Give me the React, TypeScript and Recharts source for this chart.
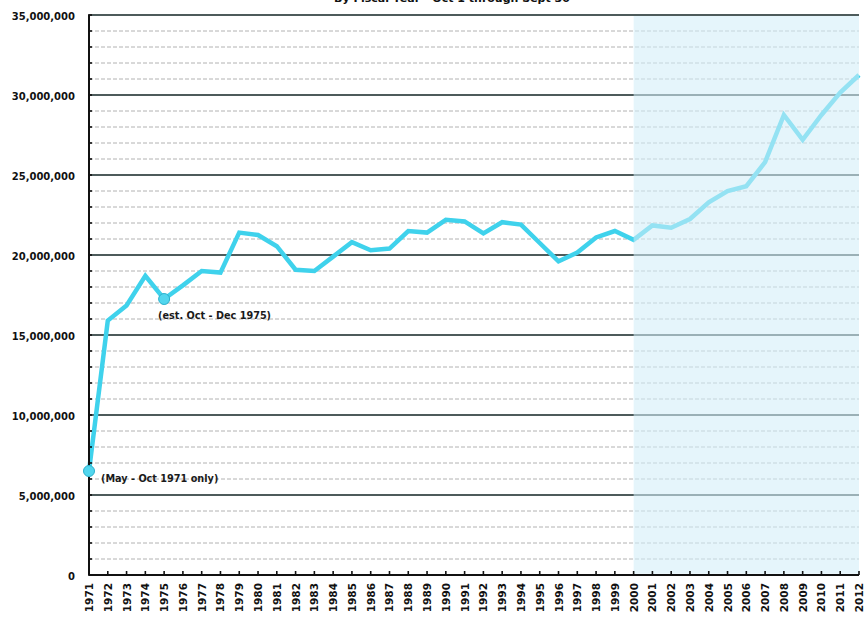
import React from "react";
import {
  LineChart,
  Line,
  XAxis,
  YAxis,
  CartesianGrid,
  ReferenceArea,
} from "recharts";

const years = [
  "1971", "1972", "1973", "1974", "1975", "1976", "1977", "1978", "1979", "1980",
  "1981", "1982", "1983", "1984", "1985", "1986", "1987", "1988", "1989", "1990",
  "1991", "1992", "1993", "1994", "1995", "1996", "1997", "1998", "1999", "2000",
  "2001", "2002", "2003", "2004", "2005", "2006", "2007", "2008", "2009", "2010",
  "2011", "2012",
];

const visitors = [
  6500000, 15900000, 16850000, 18700000, 17250000, 18100000, 19000000, 18900000, 21400000, 21250000,
  20550000, 19080000, 19000000, 19900000, 20800000, 20300000, 20400000, 21500000, 21400000, 22200000,
  22100000, 21350000, 22050000, 21900000, 20750000, 19600000, 20150000, 21100000, 21500000, 20950000,
  21850000, 21700000, 22250000, 23300000, 24000000, 24300000, 25800000, 28750000, 27200000, 28750000,
  30150000, 31250000,
];

const yLabelValues = [0, 5000000, 10000000, 15000000, 20000000, 25000000, 30000000, 35000000];
const yTickValues = Array.from({ length: 36 }, (_, i) => i * 1000000);
const minorGridValues = yTickValues.filter((v) => v % 5000000 !== 0);

const notes: Record<string, string> = {
  "1971": "(May - Oct 1971 only)",
  "1975": "(est. Oct - Dec 1975)",
};

const shadeFrom = "2000";
const shadeTo = "2012";
const title = "By Fiscal Year - Oct 1 through Sept 30";

const data = years.map((y, i) => ({ year: y, value: visitors[i] }));

const FONT = "'DejaVu Sans', Verdana, sans-serif";
const LINE_COLOR = "#3fd2ec";

const fmt = (v: number) => v.toLocaleString("en-US");

const YTick = (props: any) => {
  const { x, y, payload } = props;
  const v = payload.value as number;
  const isLabel = yLabelValues.includes(v);
  return (
    <g>
      <line x1={x - 1} x2={x + 3} y1={y} y2={y} stroke="#111" strokeWidth={1.6} />
      {isLabel && (
        <text
          x={x - 14}
          y={y + 1}
          textAnchor="end"
          dominantBaseline="central"
          fontFamily={FONT}
          fontWeight="bold"
          fontSize={10}
          fill="#111"
        >
          {fmt(v)}
        </text>
      )}
    </g>
  );
};

const XTick = (props: any) => {
  const { x, y, payload } = props;
  return (
    <g>
      <line x1={x} x2={x} y1={y} y2={y - 4} stroke="#111" strokeWidth={1.6} />
      <text
        x={x}
        y={y + 8}
        transform={`rotate(-90, ${x}, ${y + 8})`}
        textAnchor="end"
        dominantBaseline="central"
        fontFamily={FONT}
        fontWeight="bold"
        fontSize={10.5}
        fill="#111"
      >
        {payload.value}
      </text>
    </g>
  );
};

const NoteDot = (props: any) => {
  const { cx, cy, payload } = props;
  const note = notes[payload.year];
  if (!note) return <g key={payload.year} />;
  const first = payload.year === years[0];
  return (
    <g key={payload.year}>
      <circle cx={cx} cy={cy} r={5.5} fill="#52d6ee" stroke="#2ab0cc" strokeWidth={1} />
      <text
        x={first ? cx + 12 : cx - 6}
        y={first ? cy + 7 : cy + 16}
        dominantBaseline="central"
        fontFamily={FONT}
        fontWeight="bold"
        fontSize={9.7}
        fill="#1a1a1a"
      >
        {note}
      </text>
    </g>
  );
};

export default function App() {
  return (
    <div
      style={{
        position: "absolute",
        left: 0,
        top: 0,
        width: 864,
        height: 620,
        overflow: "hidden",
        background: "#fff",
      }}
    >
      <div
        style={{
          position: "absolute",
          left: 0,
          width: 904,
          top: -7,
          textAlign: "center",
          fontFamily: FONT,
          fontWeight: "bold",
          fontSize: 11,
          lineHeight: "12px",
          color: "#111",
        }}
      >
        {title}
      </div>
      <LineChart
        width={864}
        height={620}
        data={data}
        margin={{ top: 15, right: 5, bottom: 0, left: 0 }}
      >
        <CartesianGrid
          vertical={false}
          horizontalValues={minorGridValues}
          stroke="#b2b2b2"
          strokeDasharray="4 2"
          strokeWidth={1}
        />
        <CartesianGrid
          vertical={false}
          horizontalValues={yLabelValues}
          stroke="#4d5b5b"
          strokeWidth={2}
        />
        <XAxis
          dataKey="year"
          interval={0}
          height={45}
          tickSize={0}
          tickMargin={0}
          tickLine={false}
          tick={<XTick />}
          axisLine={{ stroke: "#111", strokeWidth: 2 }}
        />
        <YAxis
          width={89}
          domain={[0, 35000000]}
          ticks={yTickValues}
          interval={0}
          tickSize={0}
          tickMargin={0}
          tickLine={false}
          tick={<YTick />}
          axisLine={{ stroke: "#111", strokeWidth: 2 }}
        />
        <Line
          type="linear"
          dataKey="value"
          stroke={LINE_COLOR}
          strokeWidth={4.5}
          dot={NoteDot}
          activeDot={false}
          isAnimationActive={false}
        />
        <ReferenceArea
          x1={shadeFrom}
          x2={shadeTo}
          y1={80000}
          y2={34930000}
          fill="#d2eef8"
          fillOpacity={0.58}
          stroke="none"
          zIndex={1000}
        />
      </LineChart>
    </div>
  );
}
